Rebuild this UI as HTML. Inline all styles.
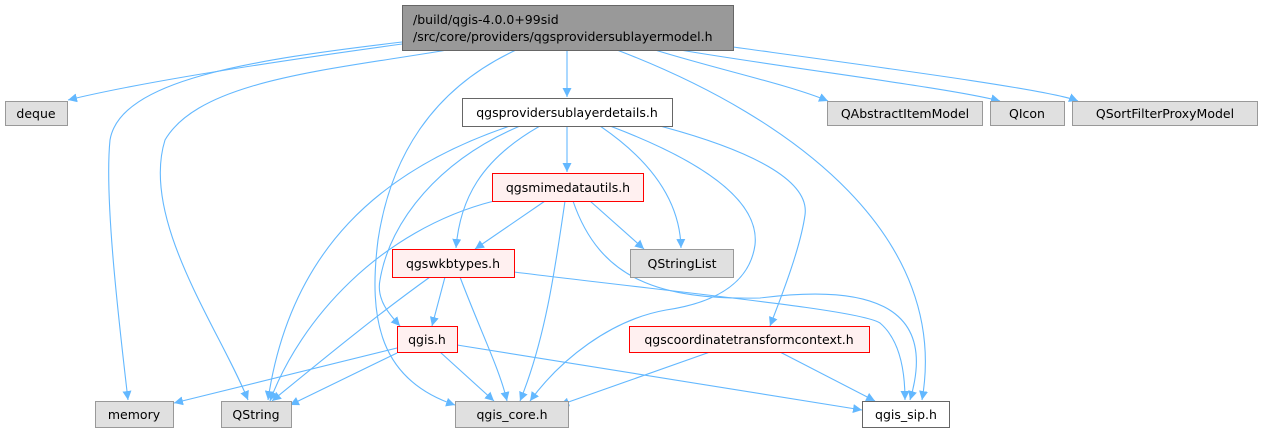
<!DOCTYPE html>
<html><head><meta charset="utf-8"><style>
html,body{margin:0;padding:0;background:#fff;width:1262px;height:434px;overflow:hidden}
text{font-family:"DejaVu Sans","Liberation Sans",sans-serif;font-size:12.5px;fill:#000}
.e{fill:none;stroke:#63b8ff;stroke-width:1.1}
.g{fill:#e0e0e0;stroke:#999}
.w{fill:#fff;stroke:#666}
.r{fill:#fff0f0;stroke:#f00}
</style></head><body>
<svg width="1262" height="434" viewBox="0 0 1262 434" xmlns="http://www.w3.org/2000/svg">
<defs><marker id="a" viewBox="0 0 10 10" refX="10" refY="5" markerWidth="9" markerHeight="9" orient="auto" markerUnits="userSpaceOnUse"><path d="M0,0L10,5L0,10z" fill="#63b8ff"/></marker></defs>
<g marker-end="url(#a)">
<path class="e" d="M402,44 C300,58 150,80 68,100"/>
<path class="e" d="M402,42 C250,60 120,80 110,140 C104,200 120,330 128,400"/>
<path class="e" d="M447,50 C330,70 200,80 165,140 C140,220 220,330 248,400"/>
<path class="e" d="M516,50 C430,90 390,160 378,240 C368,320 380,380 455,405"/>
<path class="e" d="M567,50 L567,97"/>
<path class="e" d="M655,50 C720,70 790,85 828,101"/>
<path class="e" d="M680,50 C800,70 950,88 1000,101"/>
<path class="e" d="M733,47 C900,70 1050,90 1078,101"/>
<path class="e" d="M617,50 C800,120 950,240 922,400"/>
<path class="e" d="M567,126 L567,172"/>
<path class="e" d="M510,126 C380,170 290,250 268,400"/>
<path class="e" d="M520,126 C440,160 390,220 380,280 C376,300 390,315 400,326"/>
<path class="e" d="M540,126 C480,160 460,200 456,248"/>
<path class="e" d="M600,126 C650,160 680,200 681,248"/>
<path class="e" d="M610,126 C700,160 760,200 755,245 C750,280 720,302 666,310 C610,320 560,360 530,401"/>
<path class="e" d="M660,126 C750,150 810,180 805,215 C800,250 780,300 770,326"/>
<path class="e" d="M494,201 C380,230 300,320 270,401"/>
<path class="e" d="M545,201 L475,249"/>
<path class="e" d="M565,201 C555,270 545,340 520,401"/>
<path class="e" d="M590,201 L644,249"/>
<path class="e" d="M573,201 C600,280 660,300 760,298 C860,285 940,300 910,400"/>
<path class="e" d="M445,277 L432,326"/>
<path class="e" d="M430,277 C370,320 310,370 272,401"/>
<path class="e" d="M460,277 C480,330 500,370 507,401"/>
<path class="e" d="M514,272 C700,295 860,310 880,323 C900,340 905,370 905,400"/>
<path class="e" d="M397,348 L174,403"/>
<path class="e" d="M397,353 L290,405"/>
<path class="e" d="M440,352 L494,401"/>
<path class="e" d="M457,345 L862,410"/>
<path class="e" d="M710,352 L560,405"/>
<path class="e" d="M780,352 L875,401"/>
</g>
<rect x="402.5" y="5.5" width="331" height="45" fill="#999" stroke="#666"/>
<text x="413" y="24">/build/qgis-4.0.0+99sid</text>
<text x="413" y="41">/src/core/providers/qgsprovidersublayermodel.h</text>
<rect class="g" x="5.5" y="101.5" width="62" height="24"/><text x="36" y="118" text-anchor="middle">deque</text>
<rect class="w" x="462.5" y="98.5" width="210" height="28"/><text x="567" y="117" text-anchor="middle">qgsprovidersublayerdetails.h</text>
<rect class="g" x="827.5" y="101.5" width="155" height="24"/><text x="905" y="118" text-anchor="middle">QAbstractItemModel</text>
<rect class="g" x="990.5" y="101.5" width="74" height="24"/><text x="1027" y="118" text-anchor="middle">QIcon</text>
<rect class="g" x="1072.5" y="101.5" width="185" height="24"/><text x="1165" y="118" text-anchor="middle">QSortFilterProxyModel</text>
<rect class="r" x="492.5" y="173.5" width="151" height="28"/><text x="568" y="192" text-anchor="middle">qgsmimedatautils.h</text>
<rect class="g" x="630.5" y="249.5" width="103" height="28"/><text x="682" y="268" text-anchor="middle">QStringList</text>
<rect class="r" x="392.5" y="249.5" width="122" height="28"/><text x="453" y="268" text-anchor="middle">qgswkbtypes.h</text>
<rect class="r" x="397.5" y="326.5" width="60" height="26"/><text x="427" y="344" text-anchor="middle">qgis.h</text>
<rect class="r" x="629.5" y="326.5" width="240" height="26"/><text x="749" y="344" text-anchor="middle">qgscoordinatetransformcontext.h</text>
<rect class="g" x="95.5" y="401.5" width="78" height="26"/><text x="134" y="419" text-anchor="middle">memory</text>
<rect class="g" x="221.5" y="401.5" width="70" height="26"/><text x="256" y="419" text-anchor="middle">QString</text>
<rect class="g" x="455.5" y="401.5" width="113" height="26"/><text x="512" y="419" text-anchor="middle">qgis_core.h</text>
<rect class="w" x="862.5" y="401.5" width="87" height="26"/><text x="906" y="419" text-anchor="middle">qgis_sip.h</text>
</svg>
</body></html>
